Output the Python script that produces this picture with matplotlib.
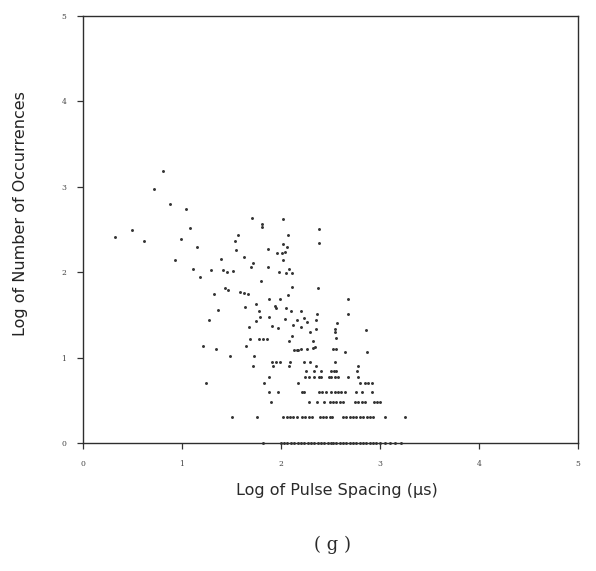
import numpy as np
import matplotlib
matplotlib.use("Agg")
import matplotlib.pyplot as plt

# Log of pulse spacing (x) for intervals seen a small, whole number of times.
# Keys of the quantised rows are the occurrence counts.
x_count1 = [1.82, 2.00, 2.03, 2.06, 2.10, 2.13, 2.17, 2.20, 2.23, 2.27, 2.30, 2.33,
            2.37, 2.40, 2.43, 2.47, 2.50, 2.53, 2.56, 2.60, 2.63, 2.66, 2.70, 2.73,
            2.76, 2.80, 2.83, 2.86, 2.90, 2.93, 2.96, 3.00, 3.05, 3.10, 3.15, 3.21]
x_count2 = [1.51, 1.76, 2.02, 2.06, 2.09, 2.12, 2.16, 2.21, 2.24, 2.28, 2.31, 2.39,
            2.42, 2.45, 2.49, 2.52, 2.63, 2.66, 2.70, 2.73, 2.76, 2.80, 2.83, 2.87,
            2.90, 2.93, 3.05, 3.25]
x_count3 = [1.90, 2.28, 2.36, 2.43, 2.49, 2.53, 2.56, 2.60, 2.63, 2.75, 2.78, 2.82,
            2.85, 2.94, 2.97, 3.00]
x_count4 = [1.88, 1.97, 2.21, 2.23, 2.38, 2.41, 2.45, 2.51, 2.55, 2.58, 2.61, 2.65,
            2.76, 2.82, 2.92]
x_count5 = [1.24, 1.83, 2.17, 2.80, 2.85, 2.88, 2.92]
x_count6 = [1.88, 2.24, 2.28, 2.33, 2.38, 2.40, 2.48, 2.51, 2.55, 2.58, 2.68, 2.78]
x_count7 = [2.25, 2.33, 2.40, 2.51, 2.54, 2.56, 2.77]
x_count8 = [1.72, 1.92, 2.08, 2.35, 2.78]
x_count9 = [1.91, 1.95, 1.99, 2.09, 2.23, 2.29, 2.55]

# Intervals seen ten or more times (log spacing, log count)
upper_x = [0.32, 0.49, 0.62, 0.72, 0.81, 0.88, 1.04, 1.08, 0.99, 1.15, 0.93, 1.11,
           1.29, 1.18, 1.32, 1.36, 1.27, 1.21, 1.34, 1.48, 1.39, 1.41, 1.45, 1.52,
           1.43, 1.46, 1.59, 1.63, 1.67, 1.71, 1.81, 1.81, 2.02, 1.57, 1.54, 1.55,
           2.07, 1.87, 2.02, 2.06, 2.04, 2.01, 1.96, 1.63, 1.72, 1.70, 2.02, 1.87,
           1.98, 2.05, 2.11, 2.08, 2.38, 2.38, 1.80, 2.11, 2.37, 2.07, 1.99, 1.88,
           2.68, 1.64, 1.75, 1.94, 1.95, 1.78, 2.05, 2.10, 2.20, 2.36, 2.68, 1.79,
           1.88, 2.04, 2.16, 2.23, 2.26, 2.35, 1.75, 1.68, 1.91, 1.97, 2.12, 2.20,
           2.35, 2.57, 2.55, 2.55, 2.86, 2.29, 1.69, 1.78, 1.82, 1.86, 2.11, 2.08,
           2.32, 2.56, 1.65, 2.13, 2.16, 2.17, 2.20, 2.26, 2.32, 2.34, 2.53, 2.56,
           2.65, 2.87, 1.73]
upper_y = [2.41, 2.49, 2.37, 2.98, 3.19, 2.80, 2.74, 2.52, 2.39, 2.29, 2.14, 2.04,
           2.03, 1.94, 1.74, 1.56, 1.44, 1.13, 1.10, 1.02, 2.15, 2.03, 2.00, 2.01,
           1.82, 1.79, 1.77, 1.76, 1.75, 2.64, 2.56, 2.53, 2.62, 2.44, 2.36, 2.26,
           2.44, 2.27, 2.33, 2.29, 2.24, 2.23, 2.23, 2.18, 2.11, 2.06, 2.14, 2.06,
           2.00, 1.99, 1.99, 2.04, 2.51, 2.34, 1.90, 1.83, 1.82, 1.73, 1.69, 1.69,
           1.69, 1.59, 1.63, 1.61, 1.58, 1.55, 1.58, 1.55, 1.54, 1.51, 1.51, 1.48,
           1.48, 1.45, 1.44, 1.46, 1.42, 1.44, 1.43, 1.36, 1.37, 1.35, 1.38, 1.36,
           1.34, 1.41, 1.33, 1.30, 1.32, 1.30, 1.22, 1.22, 1.22, 1.22, 1.25, 1.20,
           1.20, 1.23, 1.13, 1.09, 1.09, 1.09, 1.10, 1.10, 1.11, 1.12, 1.10, 1.10,
           1.07, 1.07, 1.02]

axis_ticks = [0, 1, 2, 3, 4, 5]

rows = {1: x_count1, 2: x_count2, 3: x_count3, 4: x_count4, 5: x_count5,
        6: x_count6, 7: x_count7, 8: x_count8, 9: x_count9}
xs = list(upper_x)
ys = list(upper_y)
for n, row in rows.items():
    xs.extend(row)
    ys.extend([np.log10(n)] * len(row))

fig = plt.figure(figsize=(5.96, 5.71), dpi=100)
ax = fig.add_axes([83 / 596, 1 - 443 / 571, 495 / 596, 427 / 571])

ax.scatter(xs, ys, s=4.5, color="#333333", linewidths=0, clip_on=False, zorder=3)

ax.set_xlim(0, 5)
ax.set_ylim(0, 5)
ax.set_xticks(axis_ticks)
ax.set_yticks(axis_ticks)
ax.set_xticklabels([str(t) for t in axis_ticks])
ax.set_yticklabels([str(t) for t in axis_ticks])
ax.tick_params(direction="out", length=4, width=0.9, color="#333333",
               labelsize=5.5, labelcolor="#444444", pad=8)
for lab in ax.get_xticklabels() + ax.get_yticklabels():
    lab.set_family("DejaVu Serif")
for sp in ax.spines.values():
    sp.set_color("#2e2e2e")
    sp.set_linewidth(1.0)

fig.text(337 / 596, 1 - 490 / 571, "Log of Pulse Spacing (\u03bcs)",
         ha="center", va="center", fontsize=11.5, family="DejaVu Sans",
         color="#2a2a2a")
fig.text(21 / 596, 1 - 214 / 571, "Log of Number of Occurrences",
         ha="center", va="center", rotation=90, fontsize=11.5,
         family="DejaVu Sans", color="#222222")
fig.text(333 / 596, 1 - 545 / 571, "( g )", ha="center", va="center",
         fontsize=13, family="DejaVu Serif", color="#2a2a2a")

fig.savefig("out.png", dpi=100, facecolor="white")
